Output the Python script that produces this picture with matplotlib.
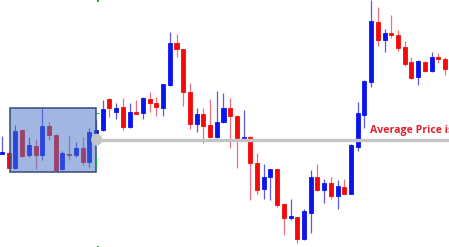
import numpy as np
import matplotlib.pyplot as plt
from matplotlib.patches import Rectangle, Ellipse

# candles, oldest first (price units)
opens = [93.3, 93.7, 78.7, 117, 92, 101.3, 92, 121, 112, 77.7,
         93, 92, 98.7, 85.3, 114.3, 117, 147.7, 135.3, 139.7, 119.7,
         134.7, 133.7, 148.3, 144.3, 138.7, 162, 204.3, 198, 155.3, 123,
         132.7, 121.7, 110, 124.7, 138.7, 131.3, 108.7, 110.3, 84.3, 57.7,
         69.7, 78, 43, 29.3, 29.7, 8, 34.3, 70.3, 57, 64.3,
         51.3, 59.7, 53, 100.3, 132, 165.3, 225.3, 207, 213.7, 212.3,
         199.7, 184.7, 169.7, 185.3, 176.3, 189.7, 187.7]
highs = [111, 95.3, 122, 117.7, 109.7, 107.7, 139.3, 125.3, 112.5, 96.3,
         111, 105.3, 110.3, 118.7, 127, 147, 149.3, 144.3, 149.3, 144.3,
         147, 150.3, 155.3, 150.3, 162.7, 215.3, 213, 198, 163.7, 139.3,
         138.7, 147.7, 156.3, 153.7, 149.3, 131.5, 137, 111, 93.7, 82.7,
         78.3, 78.3, 43.7, 47.7, 29.7, 37.7, 77, 83, 68, 69.7,
         67, 68, 103, 145.3, 167, 247, 239.7, 217.7, 232, 217,
         206.3, 190.3, 187, 186.3, 194.7, 193.7, 190.3]
lows = [93, 78.7, 78.3, 90.3, 89.7, 78, 87, 107, 76.3, 77,
        87, 90.3, 82, 80.3, 114, 116.3, 130.3, 127.7, 117, 119.3,
        133.3, 127.7, 135.3, 131, 131.3, 161.3, 189.7, 141, 117.7, 114.7,
        104.3, 108.7, 109.3, 124.3, 98.7, 78.7, 108.5, 47, 53, 48,
        47, 40.3, 12, 27, 3.7, 7.3, 13.7, 56.3, 44.3, 47.7,
        37.7, 52.7, 52.7, 96.3, 119.3, 160.3, 201.3, 194.7, 208.7, 196.3,
        181.3, 168.3, 162, 175.3, 175.3, 183.7, 172]
closes = [94.3, 79.3, 116, 91.3, 102, 92, 121, 112, 77, 93.7,
          91.7, 99.3, 84.7, 114.7, 117, 138, 138.7, 139.3, 119.7, 134.7,
          133.3, 149.3, 143.7, 139.7, 162.7, 204.3, 197.7, 155.3, 123, 132.7,
          121, 110.3, 125, 138.7, 131, 108.7, 110.3, 84.3, 57, 70.3,
          78, 42, 29.3, 31, 8, 36.3, 70.3, 57, 63.7, 51.3,
          61.3, 53, 102, 134.3, 166.3, 226.3, 207, 213.7, 211.7, 199.3,
          183, 168.7, 186.3, 176, 189.7, 187.7, 177.7]

avg_price = 107.3
box_x = (1.24, 14.0)
box_y = (75.3, 138.7)
label = 'Average Price is'

up_body, up_wick = '#0a14f0', '#5a5ae6'
dn_body, dn_wick = '#f40a0a', '#e8707c'

fig = plt.figure(figsize=(4.49, 2.47), dpi=100)
ax = fig.add_axes([0, 0, 1, 1])
ax.set_xlim(-0.298, 66.6)
ax.set_ylim(0, 247)
ax.axis('off')

w = 0.6
for i in range(len(opens)):
    o, h, l, c = opens[i], highs[i], lows[i], closes[i]
    up = c >= o
    col = up_body if up else dn_body
    ax.vlines(i, l, h, color=up_wick if up else dn_wick, lw=0.9, zorder=2)
    lo, hi = min(o, c), max(o, c)
    ax.add_patch(Rectangle((i - w / 2, lo), w, max(hi - lo, 1.2),
                           facecolor=col, edgecolor=col, lw=0.6, zorder=3))

# consolidation box
ax.add_patch(Rectangle((box_x[0], box_y[0]), box_x[1] - box_x[0], box_y[1] - box_y[0],
                       facecolor='#4b75c8', alpha=0.52, edgecolor='none', zorder=4))
ax.add_patch(Rectangle((box_x[0], box_y[0]), box_x[1] - box_x[0], box_y[1] - box_y[0],
                       facecolor='none', edgecolor='#34497e', lw=1.1, zorder=5))

# average price line
ax.plot([box_x[1] + 0.1, 66.6], [avg_price, avg_price], color='#c4c4c4', lw=2.4,
        solid_capstyle='butt', zorder=6)
ax.add_patch(Ellipse((box_x[1] + 0.1, avg_price), 1.45, 10.5, color='#c4c4c4', zorder=6))
ax.text(54.8, 116.5, label, color='#e4202c', fontsize=7.6, fontweight='bold',
        family='Open Sans', va='center', ha='left', zorder=7)

# small green marks
ax.vlines(14.25, 245, 247, color='#18b040', lw=1.5, zorder=7)
ax.vlines(14.25, 0, 1.5, color='#18b040', lw=1.5, zorder=7)
ax.vlines(14.05, 80.5, 90, color='#18b040', lw=0.8, zorder=7)
ax.hlines(133.5, 14.0, 14.5, color='#18b040', lw=0.8, zorder=7)

plt.savefig('out.png', dpi=100)
